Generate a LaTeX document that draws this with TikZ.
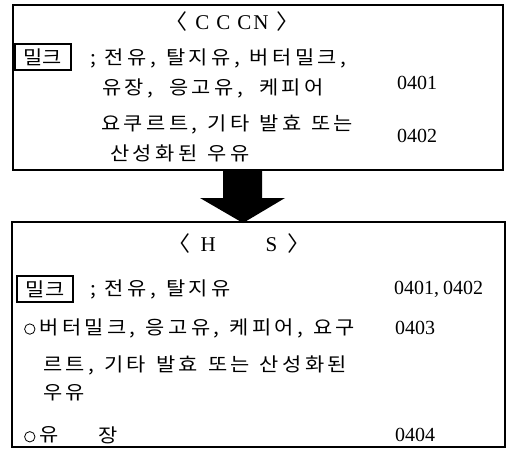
\documentclass[tikz,border=0pt]{standalone}
\usepackage{fontspec}
\setmainfont{Liberation Serif}
\newfontfamily\kr[LetterSpace=18,FakeStretch=1.1]{Noto Sans CJK KR}
\newfontfamily\krplain[FakeStretch=1.1]{Noto Sans CJK KR}
\newcommand\gp{\hspace{10pt}}
\newcommand\ring{\tikz[baseline=-5pt,x=1pt,y=1pt]\draw[line width=0.8pt] (0,0) circle [radius=5.2pt];}
\begin{document}
\begin{tikzpicture}[x=1pt,y=-1pt,
  frame/.style={draw,line width=1.5pt},
  txt/.style={anchor=west,inner sep=0pt,font=\kr\fontsize{19}{22}\selectfont},
  num/.style={anchor=west,inner sep=0pt,font=\fontsize{20}{22}\selectfont},
  ttl/.style={inner sep=0pt,font=\fontsize{21}{24}\selectfont},
  tag/.style={draw,line width=1.2pt,inner sep=0pt,minimum width=56pt,minimum height=26pt,font=\krplain\fontsize{19}{22}\selectfont}]
\useasboundingbox (0,0) rectangle (509,450);
% top box
\draw[frame] (13,5) rectangle (503,170);
\node[ttl] (t1) at (232,22) {{\krplain 〈}\hspace{8pt}C\hspace{7pt}C\hspace{7pt}C\hspace{2pt}N\hspace{8pt}{\krplain 〉}};
\node[tag] (m1) at (43,57) {밀크};
\node[txt] (a1) at (90,58) {;\hspace{9pt}전유,\gp 탈지유,\gp 버터밀크,};
\node[txt] (a2) at (102,88) {유장,\hspace{16pt}응고유,\hspace{16pt}케피어};
\node[txt] (a3) at (101,124) {요쿠르트,\gp 기타\gp 발효\gp 또는};
\node[txt] (a4) at (110,153) {산성화된\gp 우유};
\node[num] (n1) at (397,83) {0401};
\node[num] (n2) at (397,136) {0402};
% arrow
\fill (223,170) -- (262,170) -- (262,198) -- (285,198) -- (243,223) -- (200,198) -- (223,198) -- cycle;
% bottom box
\draw[frame] (12,222) rectangle (505,447);
\node[ttl] (t2) at (239,244) {{\krplain 〈}\hspace{10pt}H\hspace{50pt}S\hspace{10pt}{\krplain 〉}};
\node[tag] (m2) at (45,289) {밀크};
\node[txt] (b1) at (90,289) {;\hspace{9pt}전유,\gp 탈지유};
\node[txt] (b2) at (24,328) {\ring\hspace{4pt}버터밀크,\gp 응고유,\gp 케피어,\gp 요구};
\node[txt] (b3) at (43,365) {르트,\gp 기타\gp 발효\gp 또는\gp 산성화된};
\node[txt] (b4) at (43,393) {우유};
\node[txt] (b5) at (24,435) {\ring\hspace{4pt}유};
\node[txt] (b6) at (98,435) {장};
\node[num] (n3) at (394,289) {0401,\hspace{4pt}0402};
\node[num] (n4) at (395,328) {0403};
\node[num] (n5) at (395,435) {0404};
\end{tikzpicture}
\end{document}
